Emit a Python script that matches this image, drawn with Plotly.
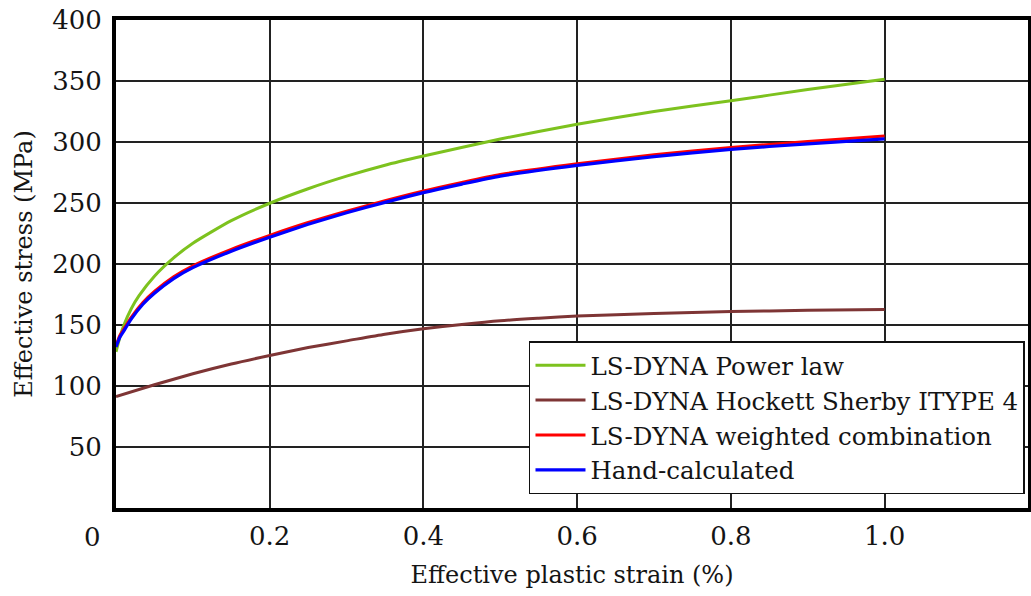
import plotly.graph_objects as go

# Effective plastic strain (%)
strain_pl = [0, 0.005, 0.01, 0.02, 0.03, 0.05, 0.075, 0.1, 0.15, 0.2, 0.25, 0.3, 0.35, 0.4, 0.5, 0.6, 0.7, 0.8, 0.9, 1.0]
power_law = [128, 140, 149.5, 163.5, 174, 190, 205, 217, 235.5, 249.8, 261.7, 272, 281, 288.5, 302.5, 314.5, 325, 333.8, 343, 351.4]

strain_hs = [0, 0.05, 0.1, 0.15, 0.2, 0.25, 0.3, 0.35, 0.4, 0.45, 0.5, 0.55, 0.6, 0.7, 0.8, 0.9, 1.0]
hockett_sherby = [91.4, 101, 110, 118, 125, 131.5, 137, 142.5, 147, 150.5, 153.5, 155.5, 157.3, 159.5, 161, 162, 162.8]

strain_wc = [0, 0.005, 0.01, 0.02, 0.035, 0.05, 0.075, 0.1, 0.15, 0.2, 0.25, 0.3, 0.35, 0.4, 0.45, 0.5, 0.6, 0.7, 0.8, 0.9, 1.0]
weighted = [133, 141.5, 146.5, 156.5, 168.5, 177.5, 189.5, 198.5, 212, 223.5, 234, 243.3, 251.8, 259.8, 266.8, 273.3, 282.2, 289.5, 295.5, 300.5, 305]
hand_calc = [132, 140, 145, 155, 167, 176, 188, 197, 210.5, 222, 232.5, 242, 250.5, 258.5, 265.5, 272, 280.8, 288, 294, 298.5, 302.5]

x_ticks = [0.2, 0.4, 0.6, 0.8, 1.0]
x_labels = ["0.2", "0.4", "0.6", "0.8", "1.0"]
y_ticks = [50, 100, 150, 200, 250, 300, 350, 400]
y_labels = ["50", "100", "150", "200", "250", "300", "350", "400"]

FONT = "DejaVu Serif"
TXT = "#141414"

fig = go.Figure()
fig.add_trace(go.Scatter(x=strain_pl, y=power_law, mode="lines", name="LS-DYNA Power law",
                         line=dict(color="#7DC21E", width=3, shape="spline", smoothing=0.6)))
fig.add_trace(go.Scatter(x=strain_hs, y=hockett_sherby, mode="lines", name="LS-DYNA Hockett Sherby ITYPE 4",
                         line=dict(color="#7E3535", width=3, shape="spline", smoothing=0.6)))
fig.add_trace(go.Scatter(x=strain_wc, y=weighted, mode="lines", name="LS-DYNA weighted combination",
                         line=dict(color="#FF0000", width=3, shape="spline", smoothing=0.6)))
fig.add_trace(go.Scatter(x=strain_wc, y=hand_calc, mode="lines", name="Hand-calculated",
                         line=dict(color="#0000FF", width=3.2, shape="spline", smoothing=0.6)))

fig.update_layout(
    width=1031, height=596,
    margin=dict(l=116, r=3, t=20, b=88),
    paper_bgcolor="white", plot_bgcolor="white",
    font=dict(family=FONT, size=24, color=TXT),
    showlegend=True,
    legend=dict(x=0.9967, y=0.028, xanchor="right", yanchor="bottom",
                bgcolor="white", bordercolor="#111111", borderwidth=1.5,
                itemwidth=50,
                font=dict(family=FONT, size=24.5, color=TXT), tracegroupgap=0),
    annotations=[dict(text="0", xref="paper", yref="paper", x=-0.026, y=-0.059,
                      xanchor="center", yanchor="middle", showarrow=False,
                      font=dict(family=FONT, size=26, color=TXT))],
)
fig.update_xaxes(range=[0, 1.1866], tickvals=x_ticks, ticktext=x_labels,
                 showgrid=True, gridcolor="#222222", gridwidth=1.5,
                 showline=True, linecolor="black", linewidth=4, mirror=True,
                 zeroline=False, ticks="", ticklabelstandoff=2, automargin=False,
                 ticklabeloverflow="allow",
                 tickfont=dict(family=FONT, size=26, color=TXT),
                 title=dict(text="Effective plastic strain (%)", font=dict(family=FONT, size=24, color=TXT), standoff=17))
fig.update_yaxes(range=[0, 400], tickvals=y_ticks, ticktext=y_labels,
                 showgrid=True, gridcolor="#222222", gridwidth=1.5,
                 showline=True, linecolor="black", linewidth=4, mirror=True,
                 zeroline=False, ticks="", ticklabelstandoff=5, automargin=False,
                 ticklabeloverflow="allow",
                 tickfont=dict(family=FONT, size=26, color=TXT),
                 title=dict(text="Effective stress (MPa)", font=dict(family=FONT, size=24, color=TXT), standoff=14))

# remove the default 8px page margin so the 1031x596 figure fills the window exactly
fig.write_html("out.html", config={"displayModeBar": False},
               post_script="document.body.style.margin='0';")
